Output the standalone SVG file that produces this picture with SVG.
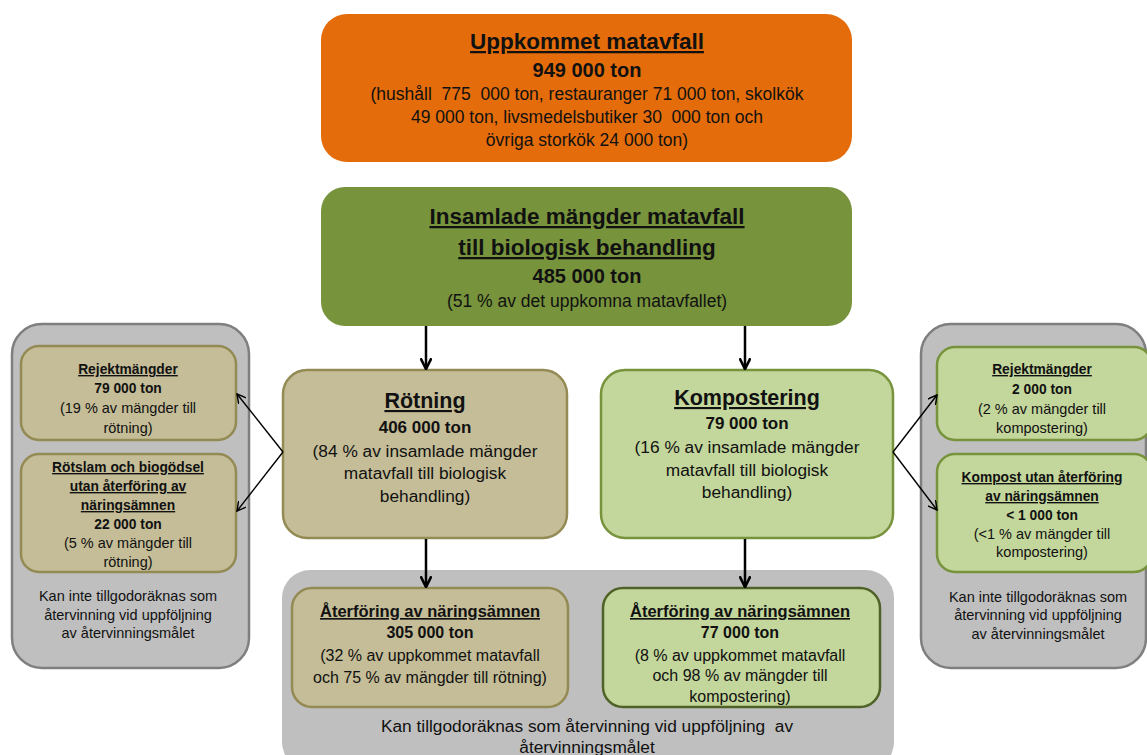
<svg xmlns="http://www.w3.org/2000/svg" width="1147" height="755" viewBox="0 0 1147 755">
<defs>
<marker id="vhead" viewBox="0 0 10 10" refX="9" refY="5" markerWidth="10" markerHeight="10" markerUnits="userSpaceOnUse" orient="auto">
<path d="M0,0 L9,5 L0,10" fill="none" stroke="#000" stroke-width="1.4"/>
</marker>
<marker id="dhead" viewBox="0 0 10 10" refX="9" refY="5" markerWidth="12" markerHeight="12" markerUnits="userSpaceOnUse" orient="auto">
<path d="M0,0.5 L9,5 L0,9.5" fill="none" stroke="#000" stroke-width="2.2"/>
</marker>
</defs>
<style>
text{font-family:"Liberation Sans",Arial,sans-serif;fill:#111;text-anchor:middle}
.pre{white-space:pre}
.t0{font-size:22.5px;font-weight:bold;text-decoration:underline}
.t1{font-size:21.5px;font-weight:bold;text-decoration:underline}
.b0{font-size:20px;font-weight:bold}
.n0{font-size:17.5px}
.b1{font-size:17px;font-weight:bold}
.n1{font-size:17.3px}
.t2{font-size:16.5px;font-weight:bold;text-decoration:underline}
.b2{font-size:16px;font-weight:bold}
.n2{font-size:16px}
.nk{font-size:17.3px}
.t3{font-size:13.8px;font-weight:bold;text-decoration:underline}
.b3{font-size:13.8px;font-weight:bold}
.n3{font-size:14.5px}
.gray{fill:#BFBFBF;stroke:#7F7F7F;stroke-width:2.5}
.graybot{fill:#BFBFBF;stroke:none}
.tan{fill:#C4BD97;stroke:#948A54;stroke-width:2.5}
.lg{fill:#C3D69B;stroke:#77933C;stroke-width:2.5}
.lgd{fill:#C3D69B;stroke:#4F6228;stroke-width:2.5}
.conn{fill:none;stroke:#000;stroke-width:1.4}
.down{fill:none;stroke:#000;stroke-width:2.5}
</style>
<g id="left-group">
<rect class="gray" x="12" y="324" width="237" height="344" rx="30"/>
<text class="n3" x="128" y="601">Kan inte tillgodoräknas som</text>
<text class="n3" x="128" y="620">återvinning vid uppföljning</text>
<text class="n3" x="128" y="638">av återvinningsmålet</text>
</g>
<g id="right-group">
<rect class="gray" x="921" y="324" width="225" height="344" rx="30"/>
<text class="n3" x="1038" y="602">Kan inte tillgodoräknas som</text>
<text class="n3" x="1038" y="620">återvinning vid uppföljning</text>
<text class="n3" x="1038" y="639">av återvinningsmålet</text>
</g>
<g id="bottom-group">
<rect class="graybot" x="282" y="570" width="612" height="200" rx="28"/>
<text class="nk pre" x="587" y="732">Kan tillgodoräknas som återvinning vid uppföljning  av</text>
<text class="nk" x="587" y="753">återvinningsmålet</text>
</g>
<g id="uppkommet">
<rect x="321" y="14" width="531" height="148" rx="26" fill="#E46C0A"/>
<text class="t0" x="587" y="49">Uppkommet matavfall</text>
<text class="b0" x="587" y="77">949 000 ton</text>
<text class="n0 pre" x="587" y="100">(hushåll  775  000 ton, restauranger 71 000 ton, skolkök</text>
<text class="n0 pre" x="587" y="123">49 000 ton, livsmedelsbutiker 30  000 ton och</text>
<text class="n0" x="587" y="146">övriga storkök 24 000 ton)</text>
</g>
<g id="insamlade">
<rect x="321" y="187" width="531" height="139" rx="24" fill="#77933C"/>
<text class="t0" x="587" y="224">Insamlade mängder matavfall</text>
<text class="t0" x="587" y="255">till biologisk behandling</text>
<text class="b0" x="587" y="283">485 000 ton</text>
<text class="n0" x="587" y="307">(51 % av det uppkomna matavfallet)</text>
</g>
<g id="rotning">
<rect class="tan" x="283" y="370" width="284" height="168" rx="24"/>
<text class="t1" x="425" y="408">Rötning</text>
<text class="b1" x="425" y="433">406 000 ton</text>
<text class="n1" x="425" y="457">(84 % av insamlade mängder</text>
<text class="n1" x="425" y="479">matavfall till biologisk</text>
<text class="n1" x="425" y="502">behandling)</text>
</g>
<g id="kompostering">
<rect class="lg" x="601" y="370" width="292" height="168" rx="24"/>
<text class="t1" x="747" y="405">Kompostering</text>
<text class="b1" x="747" y="429">79 000 ton</text>
<text class="n1" x="747" y="453">(16 % av insamlade mängder</text>
<text class="n1" x="747" y="476">matavfall till biologisk</text>
<text class="n1" x="747" y="498">behandling)</text>
</g>
<g id="rejekt-rot">
<rect class="tan" x="21" y="346" width="215" height="94" rx="18"/>
<text class="t3" x="128" y="374">Rejektmängder</text>
<text class="b3" x="128" y="393">79 000 ton</text>
<text class="n3" x="128" y="413">(19 % av mängder till</text>
<text class="n3" x="128" y="433">rötning)</text>
</g>
<g id="rotslam">
<rect class="tan" x="21" y="454" width="215" height="118" rx="18"/>
<text class="t3" x="128" y="472">Rötslam och biogödsel</text>
<text class="t3" x="128" y="491">utan återföring av</text>
<text class="t3" x="128" y="510">näringsämnen</text>
<text class="b3" x="128" y="529">22 000 ton</text>
<text class="n3" x="128" y="548">(5 % av mängder till</text>
<text class="n3" x="128" y="567">rötning)</text>
</g>
<g id="rejekt-komp">
<rect class="lg" x="937" y="347" width="215" height="93" rx="18"/>
<text class="t3" x="1042" y="374">Rejektmängder</text>
<text class="b3" x="1042" y="394">2 000 ton</text>
<text class="n3" x="1042" y="414">(2 % av mängder till</text>
<text class="n3" x="1042" y="433">kompostering)</text>
</g>
<g id="kompost-utan">
<rect class="lg" x="937" y="454" width="215" height="118" rx="18"/>
<text class="t3" x="1042" y="482">Kompost utan återföring</text>
<text class="t3" x="1042" y="501">av näringsämnen</text>
<text class="b3" x="1042" y="520">&lt; 1 000 ton</text>
<text class="n3" x="1042" y="539">(&lt;1 % av mängder till</text>
<text class="n3" x="1042" y="557">kompostering)</text>
</g>
<g id="aterforing-rot">
<rect class="tan" x="292" y="588" width="276" height="119" rx="20"/>
<text class="t2" x="430" y="617">Återföring av näringsämnen</text>
<text class="b2" x="430" y="638">305 000 ton</text>
<text class="n2" x="430" y="661">(32 % av uppkommet matavfall</text>
<text class="n2" x="430" y="683">och 75 % av mängder till rötning)</text>
</g>
<g id="aterforing-komp">
<rect class="lgd" x="603" y="588" width="277" height="119" rx="20"/>
<text class="t2" x="740" y="617">Återföring av näringsämnen</text>
<text class="b2" x="740" y="638">77 000 ton</text>
<text class="n2" x="740" y="661">(8 % av uppkommet matavfall</text>
<text class="n2" x="740" y="681">och 98 % av mängder till</text>
<text class="n2" x="740" y="702">kompostering)</text>
</g>
<g id="connectors">
<line class="down" x1="426" y1="326" x2="426" y2="369" marker-end="url(#dhead)"/>
<line class="down" x1="745" y1="326" x2="745" y2="369" marker-end="url(#dhead)"/>
<line class="down" x1="426" y1="539" x2="426" y2="587" marker-end="url(#dhead)"/>
<line class="down" x1="745" y1="539" x2="745" y2="587" marker-end="url(#dhead)"/>
<line class="conn" x1="283" y1="452" x2="237" y2="394" marker-end="url(#vhead)"/>
<line class="conn" x1="283" y1="452" x2="237" y2="511" marker-end="url(#vhead)"/>
<line class="conn" x1="893" y1="452" x2="937" y2="395" marker-end="url(#vhead)"/>
<line class="conn" x1="893" y1="452" x2="937" y2="510" marker-end="url(#vhead)"/>
</g>
</svg>
